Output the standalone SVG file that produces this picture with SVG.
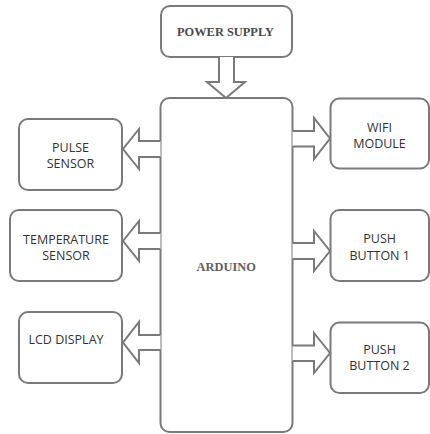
<svg xmlns="http://www.w3.org/2000/svg" width="430" height="434" viewBox="0 0 430 434">
<style>
.box{fill:#fff;stroke:#7a7a7a;stroke-width:2}
.arr{fill:#fff;stroke:#7a7a7a;stroke-width:2;stroke-linejoin:miter}
.s{font-family:"Open Sans","Liberation Sans",sans-serif;font-size:12.5px;fill:#333;text-anchor:middle}
.t{font-family:"Liberation Serif","Times New Roman",serif;font-weight:bold;font-size:12.4px;text-anchor:middle}
</style>
<rect width="430" height="434" fill="#fff"/>
<g id="power">
<rect class="box" x="161" y="6" width="131" height="51" rx="9"/>
<text class="t" x="225.5" y="35.7" fill="#4a4a4a">POWER SUPPLY</text>
</g>
<g id="arduino">
<rect class="box" x="160.5" y="98" width="132" height="334" rx="9"/>
<text class="t" x="226.2" y="270.7" fill="#606060">ARDUINO</text>
</g>
<g id="pulse">
<rect class="box" x="19" y="119" width="103" height="71" rx="9"/>
<text class="s" x="70.5" y="152">PULSE</text>
<text class="s" x="70.5" y="168">SENSOR</text>
</g>
<g id="temperature">
<rect class="box" x="10" y="210" width="112" height="71" rx="9"/>
<text class="s" x="66" y="244">TEMPERATURE</text>
<text class="s" x="66" y="259.5">SENSOR</text>
</g>
<g id="lcd">
<rect class="box" x="19" y="312" width="103" height="71" rx="9"/>
<text class="s" x="66" y="344">LCD DISPLAY</text>
</g>
<g id="wifi">
<rect class="box" x="330.5" y="98.5" width="98.5" height="70" rx="9"/>
<text class="s" x="379.5" y="131.7">WIFI</text>
<text class="s" x="379.5" y="147.7">MODULE</text>
</g>
<g id="push1">
<rect class="box" x="330.5" y="210" width="98.5" height="71" rx="9"/>
<text class="s" x="379.7" y="242.7">PUSH</text>
<text class="s" x="379.7" y="260">BUTTON 1</text>
</g>
<g id="push2">
<rect class="box" x="330.5" y="322.5" width="98.5" height="70.5" rx="9"/>
<text class="s" x="379.5" y="354">PUSH</text>
<text class="s" x="379.5" y="370">BUTTON 2</text>
</g>
<g id="connectors">
<path class="arr" d="M219,57 V82 H207 L226,98 L245,82 H234 V57"/>
<path class="arr" d="M160.5,141 H139 V129 L123,149 L139,169 V157 H160.5"/>
<path class="arr" d="M160.5,233 H139 V221 L123,241 L139,261 V249 H160.5"/>
<path class="arr" d="M160.5,335 H139 V322 L123,342.5 L139,363 V350 H160.5"/>
<path class="arr" d="M292.5,131 H314 V118 L330,138.5 L314,159 V146.5 H292.5"/>
<path class="arr" d="M292.5,243 H314 V231 L330,251 L314,271 V259 H292.5"/>
<path class="arr" d="M292.5,345.5 H314 V333 L330,353 L314,373 V361 H292.5"/>
</g>
</svg>
